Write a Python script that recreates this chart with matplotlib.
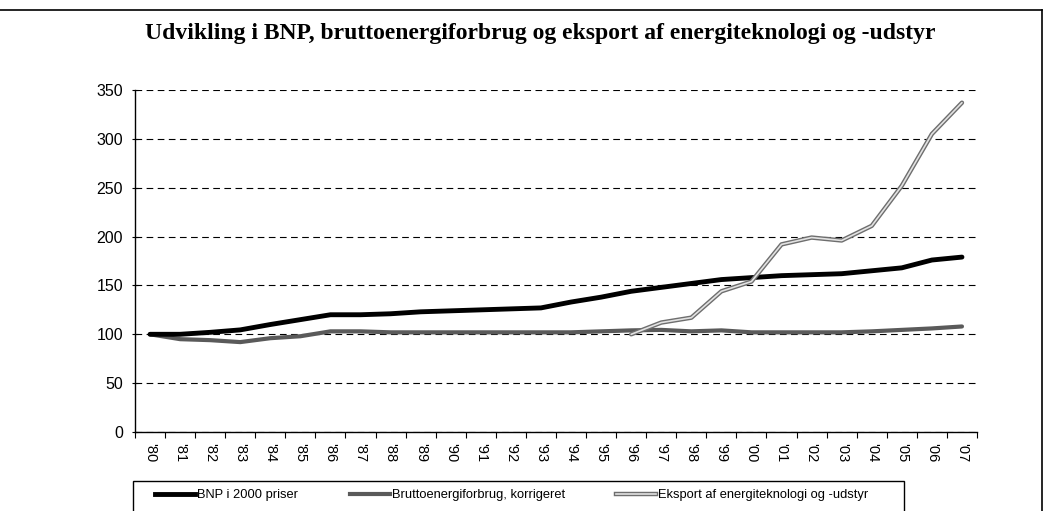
import numpy as np
import matplotlib
matplotlib.use("Agg")
import matplotlib.pyplot as plt
from matplotlib.lines import Line2D
from matplotlib.patches import Rectangle

# data (index, 1980 = 100)
years = ["'80", "'81", "'82", "'83", "'84", "'85", "'86", "'87", "'88", "'89",
         "'90", "'91", "'92", "'93", "'94", "'95", "'96", "'97", "'98", "'99",
         "'00", "'01", "'02", "'03", "'04", "'05", "'06", "'07"]
bnp = [100, 100, 102, 104.5, 110, 115, 120, 120, 121, 123,
       124, 125, 126, 127, 133, 138, 144, 148, 152, 156,
       158, 160, 161, 162, 165, 168, 176, 179]
energi = [100, 95, 94, 92, 96, 98, 103, 103, 102, 102,
          102, 102, 102, 102, 102, 103, 104, 104.5, 103, 104,
          102, 102, 102, 102, 103, 104.5, 106, 108]
eksport = [None] * 16 + [100, 112, 117, 144, 154, 192, 199, 196, 211, 252, 305, 337]

labels = ["BNP i 2000 priser", "Bruttoenergiforbrug, korrigeret",
          "Eksport af energiteknologi og -udstyr"]
title = "Udvikling i BNP, bruttoenergiforbrug og eksport af energiteknologi og -udstyr"

plt.rcParams['font.family'] = ['Liberation Sans', 'DejaVu Sans']

W, H = 1048, 511
fig = plt.figure(figsize=(W / 100, H / 100), dpi=100)
ax = fig.add_axes([135 / W, 79 / H, 842 / W, 342 / H])

x = np.arange(len(years))
exp = np.array([np.nan if v is None else v for v in eksport], dtype=float)

ax.plot(x, bnp, color="black", lw=3.5, solid_capstyle="round", zorder=4)
ax.plot(x, energi, color="#5a5a5a", lw=3.0, solid_capstyle="round", zorder=3)
# double line look: dark outline with a light core
ax.plot(x, exp, color="#6e6e6e", lw=3.2, solid_capstyle="round", zorder=5)
ax.plot(x, exp, color="#e2e2e2", lw=1.2, solid_capstyle="round", zorder=6)

ax.set_xlim(-0.5, len(years) - 0.5)
ax.set_ylim(0, 350)
ax.set_yticks(range(0, 351, 50))
ax.yaxis.grid(True, color="black", ls=(0, (6, 4)), lw=0.8)
ax.set_axisbelow(True)

ax.set_xticks(np.arange(len(years) + 1) - 0.5)
ax.set_xticklabels([])
ax.set_xticks(x, minor=True)
ax.set_xticklabels(years, minor=True, rotation=270, fontsize=10.5)
ax.tick_params(axis="x", which="major", length=4, direction="out", width=0.8)
ax.tick_params(axis="x", which="minor", length=0, pad=8)
ax.tick_params(axis="y", length=5, direction="inout", labelsize=11.5, pad=6, width=0.8)

for s in ["top", "right"]:
    ax.spines[s].set_visible(False)
ax.spines["left"].set_linewidth(1.0)
ax.spines["bottom"].set_linewidth(1.0)

fig.text(540 / W, 1 - 33 / H, title, ha="center", va="center",
         family="Liberation Serif", fontweight="bold", fontsize=17)

# legend: entries without frame, box drawn separately
h1 = Line2D([], [], color="black", lw=3.5)
h2 = Line2D([], [], color="#5a5a5a", lw=3.0)
h3a = Line2D([], [], color="#6e6e6e", lw=3.2)
h3b = Line2D([], [], color="#e2e2e2", lw=1.2)
fig.legend([h1, h2, (h3a, h3b)], labels, ncol=3, loc="center left",
           bbox_to_anchor=(155 / W, 1 - 495 / H), frameon=False,
           fontsize=9.3, handlelength=3.1, handletextpad=0.15,
           columnspacing=4.0, borderpad=0, borderaxespad=0)
fig.add_artist(Rectangle((133 / W, 1 - 516 / H), (904 - 133) / W, 35 / H,
                         transform=fig.transFigure, fill=False,
                         edgecolor="black", lw=1.0))

# outer frame of the chart area
fig.add_artist(Line2D([0, 1042 / W], [1 - 10 / H, 1 - 10 / H], color="black", lw=1.2))
fig.add_artist(Line2D([1042 / W, 1042 / W], [1 - 10 / H, 0], color="black", lw=1.2))

fig.savefig("out.png", dpi=100)
